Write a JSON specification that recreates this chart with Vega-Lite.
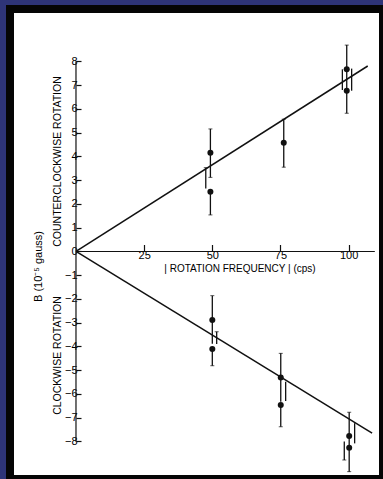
{
  "$schema": "https://vega.github.io/schema/vega-lite/v6.json",
  "width": 373,
  "height": 470,
  "autosize": {"type": "none"},
  "padding": {"left": 10, "top": 9, "right": 0, "bottom": 0},
  "background": "#2e3478",
  "config": {
    "view": {"fill": "white", "stroke": "#050505", "strokeWidth": 8},
    "font": "Liberation Sans",
    "axis": {
      "domain": false,
      "grid": false,
      "tickColor": "#111111",
      "labelColor": "#000000",
      "titleColor": "#000000",
      "titleFontWeight": "normal",
      "labelFontSize": 11,
      "titleFontSize": 10.5,
      "labelFont": "Liberation Sans",
      "titleFont": "Liberation Sans"
    }
  },
  "datasets": {
    "axislines": [
      {"x": 0, "x2": 109.6, "y": 0, "y2": 0},
      {"x": 0, "x2": 0, "y": -8, "y2": 8}
    ],
    "fits": [
      {"rotation": "counterclockwise", "freq": 0, "b": 0},
      {"rotation": "counterclockwise", "freq": 107, "b": 7.81},
      {"rotation": "clockwise", "freq": 0, "b": 0},
      {"rotation": "clockwise", "freq": 108.6, "b": -7.65}
    ],
    "errors": [
      {"freq": 49.3, "lo": 3.12, "hi": 5.16},
      {"freq": 49.3, "lo": 1.54, "hi": 2.52},
      {"freq": 47.6, "lo": 2.65, "hi": 3.53},
      {"freq": 76.2, "lo": 3.55, "hi": 5.57},
      {"freq": 99.3, "lo": 5.82, "hi": 8.69},
      {"freq": 97.7, "lo": 6.8, "hi": 7.67},
      {"freq": 101.1, "lo": 6.77, "hi": 7.7},
      {"freq": 50, "lo": -3.88, "hi": -1.86},
      {"freq": 50, "lo": -4.81, "hi": -4.11},
      {"freq": 51.6, "lo": -3.9, "hi": -3.38},
      {"freq": 75.1, "lo": -6.33, "hi": -4.29},
      {"freq": 75.1, "lo": -7.38, "hi": -6.46},
      {"freq": 76.9, "lo": -6.3, "hi": -5.48},
      {"freq": 100.2, "lo": -9.27, "hi": -6.77},
      {"freq": 98.4, "lo": -8.78, "hi": -8.0},
      {"freq": 102.2, "lo": -8.08, "hi": -7.23}
    ],
    "caps": [
      {"freq": 49.3, "b": 5.16},
      {"freq": 49.3, "b": 3.12},
      {"freq": 49.3, "b": 1.54},
      {"freq": 47.6, "b": 3.53},
      {"freq": 76.2, "b": 5.57},
      {"freq": 76.2, "b": 3.55},
      {"freq": 99.3, "b": 8.69},
      {"freq": 99.3, "b": 5.82},
      {"freq": 50, "b": -1.86},
      {"freq": 50, "b": -4.81},
      {"freq": 51.6, "b": -3.38},
      {"freq": 75.1, "b": -4.29},
      {"freq": 75.1, "b": -7.38},
      {"freq": 100.2, "b": -6.77},
      {"freq": 100.2, "b": -9.27},
      {"freq": 98.4, "b": -8.78}
    ],
    "points": [
      {"rotation": "counterclockwise", "freq": 49.3, "b": 4.16},
      {"rotation": "counterclockwise", "freq": 49.3, "b": 2.52},
      {"rotation": "counterclockwise", "freq": 76.2, "b": 4.58},
      {"rotation": "counterclockwise", "freq": 99.3, "b": 7.67},
      {"rotation": "counterclockwise", "freq": 99.3, "b": 6.77},
      {"rotation": "clockwise", "freq": 50, "b": -2.88},
      {"rotation": "clockwise", "freq": 50, "b": -4.11},
      {"rotation": "clockwise", "freq": 75.1, "b": -5.31},
      {"rotation": "clockwise", "freq": 75.1, "b": -6.46},
      {"rotation": "clockwise", "freq": 100.2, "b": -7.77},
      {"rotation": "clockwise", "freq": 100.2, "b": -8.26}
    ]
  },
  "resolve": {"scale": {"y": "independent"}, "axis": {"y": "independent"}},
  "layer": [
    {
      "data": {"name": "axislines"},
      "mark": {"type": "rule", "color": "#111111", "strokeWidth": 1.2},
      "encoding": {
        "x": {
          "field": "x", "type": "quantitative",
          "scale": {"domain": [-24.2, 112.6], "nice": false, "zero": false},
          "axis": {
            "orient": "bottom",
            "offset": -227.5,
            "values": [25, 50, 75, 100],
            "tickSize": -7,
            "tickWidth": 1.2,
            "labelPadding": 5,
            "title": "| ROTATION FREQUENCY | (cps)",
            "titleFontSize": 10,
            "titleX": 229.5,
            "titleY": 17,
            "titleAlign": "center",
            "titleBaseline": "middle"
          }
        },
        "x2": {"field": "x2"},
        "y": {
          "field": "y", "type": "quantitative",
          "scale": {"domain": [-9.58, 10.21], "nice": false, "zero": false},
          "axis": null
        },
        "y2": {"field": "y2"}
      }
    },
    {
      "data": {"name": "fits"},
      "mark": {"type": "line", "color": "#111111", "strokeWidth": 1.5},
      "encoding": {
        "x": {"field": "freq", "type": "quantitative"},
        "y": {
          "field": "b", "type": "quantitative",
          "scale": {"domain": [-9.58, 10.21], "nice": false, "zero": false},
          "axis": {
            "orient": "left",
            "offset": -66,
            "values": [-8, -7, -6, -5, -4, -3, -2, -1, 0, 1, 2, 3, 4, 5, 6, 7, 8],
            "tickSize": -5,
            "tickWidth": 1.2,
            "labelPadding": 4,
            "title": "B  (10⁻⁵   gauss)",
            "titleFontSize": 11,
            "titleX": -38,
            "titleY": 257,
            "titleAngle": -90,
            "titleAlign": "center",
            "titleBaseline": "middle"
          }
        },
        "detail": {"field": "rotation"}
      }
    },
    {
      "data": {"name": "errors"},
      "mark": {"type": "rule", "color": "#111111", "strokeWidth": 1.3},
      "encoding": {
        "x": {"field": "freq", "type": "quantitative"},
        "y": {
          "field": "lo", "type": "quantitative",
          "scale": {"domain": [-9.58, 10.21], "nice": false, "zero": false},
          "axis": {
            "orient": "left",
            "offset": 0,
            "labels": false,
            "ticks": false,
            "title": "COUNTERCLOCKWISE ROTATION",
            "titleX": 47,
            "titleY": 152,
            "titleAngle": -90,
            "titleAlign": "center",
            "titleBaseline": "middle"
          }
        },
        "y2": {"field": "hi"}
      }
    },
    {
      "data": {"name": "caps"},
      "mark": {"type": "tick", "orient": "horizontal", "color": "#111111", "size": 4, "thickness": 1},
      "encoding": {
        "x": {"field": "freq", "type": "quantitative"},
        "y": {
          "field": "b", "type": "quantitative",
          "scale": {"domain": [-9.58, 10.21], "nice": false, "zero": false},
          "axis": null
        }
      }
    },
    {
      "data": {"name": "points"},
      "mark": {"type": "circle", "color": "#111111", "opacity": 1, "size": 36},
      "encoding": {
        "x": {"field": "freq", "type": "quantitative"},
        "y": {
          "field": "b", "type": "quantitative",
          "scale": {"domain": [-9.58, 10.21], "nice": false, "zero": false},
          "axis": {
            "orient": "left",
            "offset": 0,
            "labels": false,
            "ticks": false,
            "title": "CLOCKWISE ROTATION",
            "titleX": 47,
            "titleY": 346,
            "titleAngle": -90,
            "titleAlign": "center",
            "titleBaseline": "middle"
          }
        }
      }
    }
  ]
}
